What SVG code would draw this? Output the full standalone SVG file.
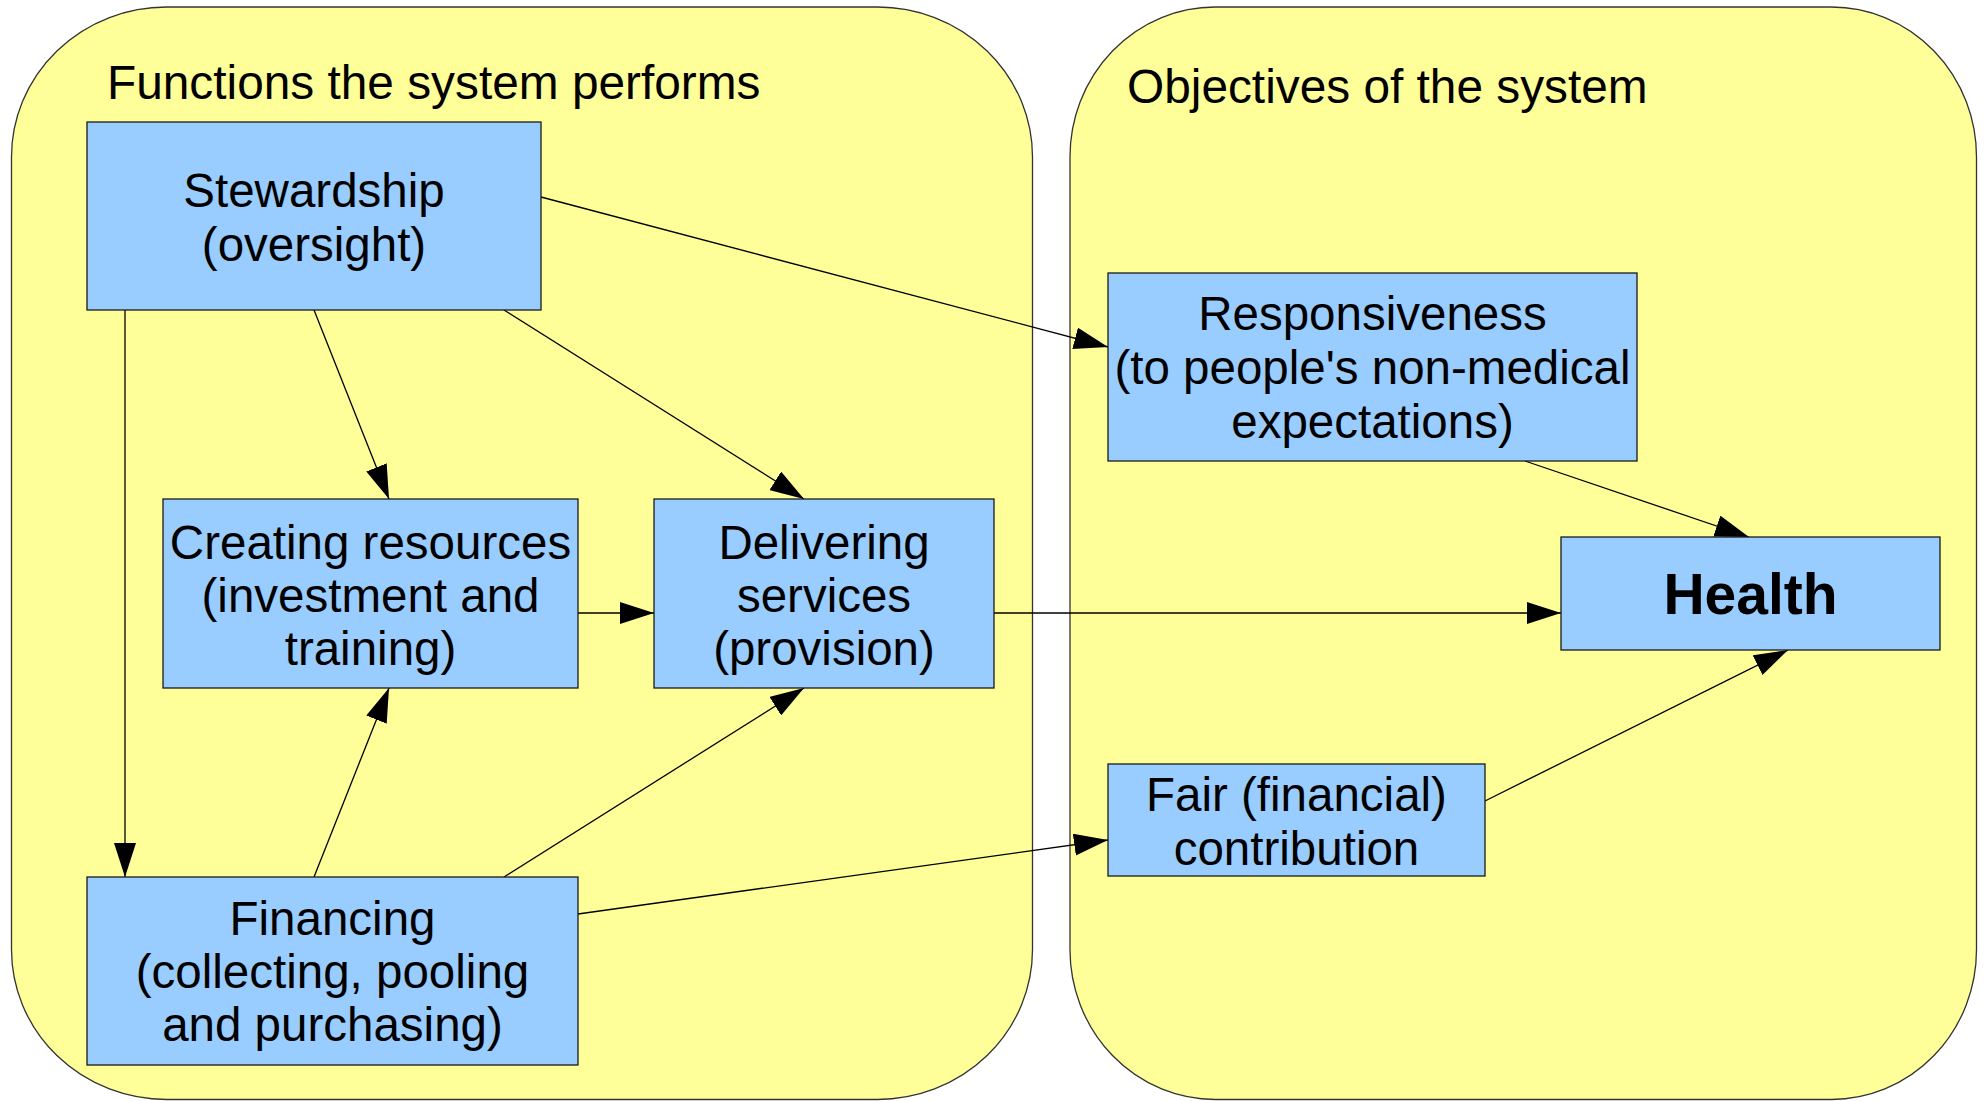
<svg xmlns="http://www.w3.org/2000/svg" width="1988" height="1101" viewBox="0 0 1988 1101">
<defs>
<style>
.cont{fill:#FFFF99;stroke:#333;stroke-width:1.3}
.box{fill:#99CCFF;stroke:#1a1a1a;stroke-width:1.3}
.t{font-family:"Liberation Sans",Arial,sans-serif;font-size:47.5px;fill:#000;text-anchor:middle}
.title{font-family:"Liberation Sans",Arial,sans-serif;font-size:47.8px;fill:#000}
.bold{font-weight:bold;font-size:57px}
.c{stroke:#000;stroke-width:1.3;fill:none;marker-end:url(#arr)}
</style>
<marker id="arr" markerUnits="userSpaceOnUse" markerWidth="34" markerHeight="22" viewBox="0 0 34 22" refX="34" refY="11" orient="auto">
<path d="M0,0 L34,11 L0,22 z" fill="#000"/>
</marker>
</defs>
<rect width="1988" height="1101" fill="#fff"/>
<g id="functions-container">
<rect class="cont" x="11.5" y="7" width="1021" height="1092.5" rx="155" ry="150"/>
<text class="title" x="107" y="99">Functions the system performs</text>
</g>
<g id="objectives-container">
<rect class="cont" x="1070" y="7" width="906.5" height="1092.5" rx="145" ry="150"/>
<text class="title" x="1127" y="103">Objectives of the system</text>
</g>
<g id="connectors">
<line class="c" x1="541" y1="197" x2="1108" y2="347"/>
<line class="c" x1="314" y1="310" x2="389" y2="499"/>
<line class="c" x1="504" y1="310" x2="804" y2="499"/>
<line class="c" x1="125" y1="310" x2="125" y2="877"/>
<line class="c" x1="578" y1="613" x2="654" y2="613"/>
<line class="c" x1="314" y1="877" x2="389" y2="688"/>
<line class="c" x1="504" y1="877" x2="804" y2="688"/>
<line class="c" x1="578" y1="914" x2="1108" y2="840"/>
<line class="c" x1="994" y1="613" x2="1561" y2="613"/>
<line class="c" x1="1525" y1="461" x2="1749" y2="537"/>
<line class="c" x1="1485" y1="801" x2="1788" y2="650"/>
</g>
<g id="stewardship">
<rect class="box" x="87" y="122" width="454" height="188"/>
<text class="t" x="314" y="207">Stewardship</text>
<text class="t" x="314" y="261">(oversight)</text>
</g>
<g id="creating-resources">
<rect class="box" x="163" y="499" width="415" height="189"/>
<text class="t" x="370.5" y="559">Creating resources</text>
<text class="t" x="370.5" y="612">(investment and</text>
<text class="t" x="370.5" y="665">training)</text>
</g>
<g id="delivering-services">
<rect class="box" x="654" y="499" width="340" height="189"/>
<text class="t" x="824" y="559">Delivering</text>
<text class="t" x="824" y="612">services</text>
<text class="t" x="824" y="665">(provision)</text>
</g>
<g id="financing">
<rect class="box" x="87" y="877" width="491" height="188"/>
<text class="t" x="332.5" y="935">Financing</text>
<text class="t" x="332.5" y="988">(collecting, pooling</text>
<text class="t" x="332.5" y="1041">and purchasing)</text>
</g>
<g id="responsiveness">
<rect class="box" x="1108" y="273" width="529" height="188"/>
<text class="t" x="1372.5" y="330">Responsiveness</text>
<text class="t" x="1372.5" y="384">(to people's non-medical</text>
<text class="t" x="1372.5" y="438">expectations)</text>
</g>
<g id="health">
<rect class="box" x="1561" y="537" width="379" height="113"/>
<text class="t bold" x="1750.5" y="614">Health</text>
</g>
<g id="fair-contribution">
<rect class="box" x="1108" y="764" width="377" height="112"/>
<text class="t" x="1296.5" y="811">Fair (financial)</text>
<text class="t" x="1296.5" y="865">contribution</text>
</g>
</svg>
